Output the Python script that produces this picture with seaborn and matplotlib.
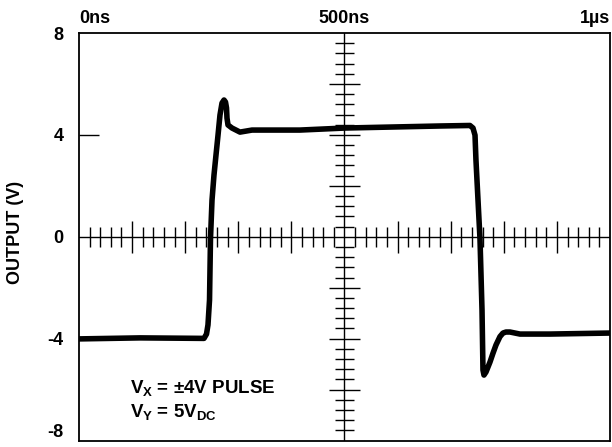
import numpy as np
import pandas as pd
import seaborn as sns
import matplotlib.pyplot as plt

# trace: time (ns) and output (V)
time_ns = [0, 115, 235.4, 240.1, 242.9, 245.8, 247.6, 250.5, 254.2, 258.0,
           261.8, 265.5, 269.3, 273.1, 275.9, 277.8, 278.7, 280.6, 288.1,
           303.2, 314.5, 325.8, 416, 501, 680, 736.3, 742.0, 745.8, 747.6,
           755.2, 759.0, 760.8, 762.7, 766.5, 774.0, 779.7, 785.3, 792.8,
           798.5, 804.1, 811.7, 821.1, 830.5, 887, 1000]
output_v = [-4.01, -3.97, -3.99, -3.82, -3.46, -2.48, -0.09, 1.44, 2.42, 3.21,
            3.99, 4.78, 5.25, 5.37, 5.29, 5.06, 4.66, 4.39, 4.27,
            4.11, 4.15, 4.19, 4.19, 4.27, 4.35, 4.37, 4.27, 3.99, 3.01,
            -0.09, -2.88, -5.23, -5.43, -5.31, -4.92, -4.57, -4.25, -3.92,
            -3.78, -3.74, -3.74, -3.78, -3.82, -3.82, -3.78]

top_ticks = [0, 500, 1000]
top_labels = ["0ns", "500ns", "1\u00b5s"]
y_ticks = [8, 4, 0, -4, -8]
y_labels = ["8", "4", "0", "-4", "-8"]

# graticule divisions: 100ns / 2V major, five subdivisions each
x_major = [100, 200, 300, 400, 600, 700, 800, 900]
x_minor = [t for t in range(20, 1000, 20) if t % 100 != 0]
y_major = [-6, -4, -2, 2, 4, 6]
y_minor = [round(v * 0.4, 1) for v in range(-19, 20) if v % 5 != 0]

df = pd.DataFrame({"t": time_ns, "v": output_v})

sns.set_theme(style="white")
plt.rcParams["font.family"] = ["Liberation Sans", "DejaVu Sans"]
plt.rcParams["font.weight"] = "bold"
plt.rcParams["text.color"] = "black"
plt.rcParams["axes.labelcolor"] = "black"
plt.rcParams["xtick.color"] = "black"
plt.rcParams["ytick.color"] = "black"
plt.rcParams["mathtext.fontset"] = "custom"
plt.rcParams["mathtext.rm"] = "Liberation Sans:bold"
plt.rcParams["mathtext.it"] = "Liberation Sans:bold"
plt.rcParams["mathtext.bf"] = "Liberation Sans:bold"

fig = plt.figure(figsize=(6.12, 4.47), dpi=100)
ax = fig.add_axes([0.1291, 0.0145, 0.8676, 0.9116])
ax.set_xlim(0, 1000)
ax.set_ylim(-8, 8)

# center crosshair with tick marks
ax.axhline(0, color="black", lw=1.0, zorder=1)
ax.axvline(500, color="black", lw=1.0, zorder=1)
ax.vlines(x_minor, -0.39, 0.39, color="black", lw=1.0, zorder=1)
ax.vlines(x_major, -0.63, 0.63, color="black", lw=1.0, zorder=1)
ax.hlines(y_minor, 500 - 18.8, 500 + 18.8, color="black", lw=1.0, zorder=1)
ax.hlines(y_major, 500 - 30, 500 + 30, color="black", lw=1.0, zorder=1)

sns.lineplot(data=df, x="t", y="v", sort=False, estimator=None, ax=ax,
             color="black", lw=4.0, solid_joinstyle="round",
             solid_capstyle="round", zorder=3)

for s in ax.spines.values():
    s.set_visible(True)
    s.set_color("black")
    s.set_linewidth(1.3)

ax.xaxis.tick_top()
ax.set_xticks(top_ticks, top_labels)
ax.tick_params(axis="x", length=0, pad=4, labelsize=13, labelcolor="black")
for lab, ha in zip(ax.get_xticklabels(), ["left", "center", "right"]):
    lab.set_ha(ha)
    lab.set_fontweight("bold")

ax.set_yticks(y_ticks, y_labels)
ax.tick_params(axis="y", direction="in", length=14.4, width=1.0, pad=11,
               labelsize=13, color="black", labelcolor="black", left=True)
for tk, val in zip(ax.yaxis.get_major_ticks(), y_ticks):
    tk.tick1line.set_visible(val in (4, -4))
for lab, val in zip(ax.get_yticklabels(), y_ticks):
    lab.set_fontweight("bold")
    if val == -8:
        lab.set_va("bottom")

ax.set_xlabel("")
ax.set_ylabel("OUTPUT (V)", fontsize=13, fontweight="bold", color="black")
ax.yaxis.set_label_coords(-0.104, 0.51)

ax.text(0.096, 0.1166, "$V_X$ = \u00b14V PULSE", transform=ax.transAxes,
        fontsize=13.5, fontweight="bold", va="baseline", color="black")
ax.text(0.096, 0.0577, "$V_Y$ = 5$V_{DC}$", transform=ax.transAxes,
        fontsize=13.5, fontweight="bold", va="baseline", color="black")

fig.savefig("out.png", dpi=100)
